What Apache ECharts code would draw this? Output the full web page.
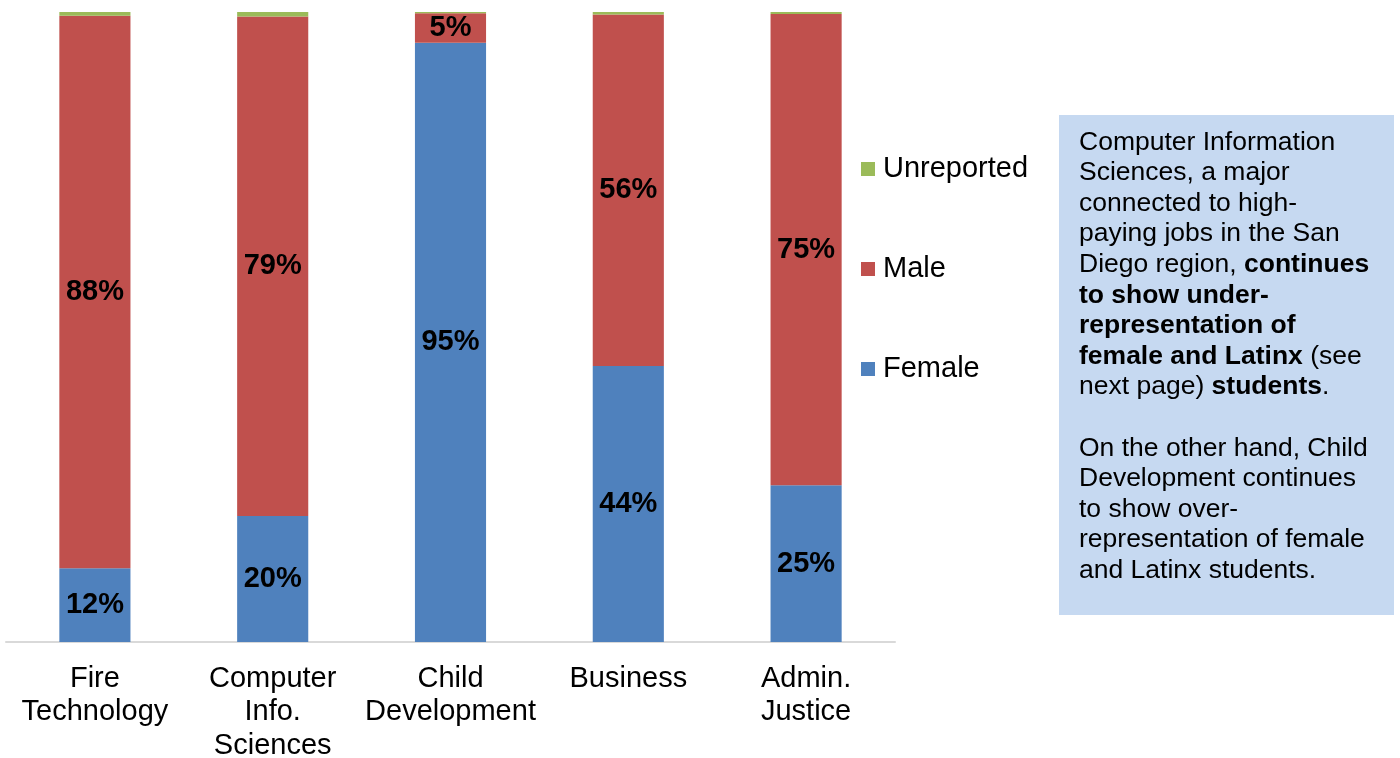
<!DOCTYPE html>
<html>
<head>
<meta charset="utf-8">
<script src="https://cdn.jsdelivr.net/npm/echarts@6/dist/echarts.min.js"></script>
<style>
  html, body { margin: 0; padding: 0; background: #fff; }
  #chart { width: 1400px; height: 758px; }
</style>
</head>
<body>
<div id="chart"></div>
<script>
// data
const categories = ['Fire\nTechnology', 'Computer\nInfo.\nSciences', 'Child\nDevelopment', 'Business', 'Admin.\nJustice'];
const female = [11.7, 20.0, 95.1, 43.8, 24.9];
const male = [87.7, 79.3, 4.7, 55.8, 74.8];
const unreported = [0.6, 0.7, 0.2, 0.4, 0.3];

const FONT = '"Liberation Sans", Arial, sans-serif';

const noteLines = [
  'Computer Information',
  'Sciences, a major',
  'connected to high-',
  'paying jobs in the San',
  'Diego region, {b|continues}',
  '{b|to show under-}',
  '{b|representation of}',
  '{b|female and Latinx} (see',
  'next page) {b|students}.',
  '',
  'On the other hand, Child',
  'Development continues',
  'to show over-',
  'representation of female',
  'and Latinx students.'
];

document.addEventListener('DOMContentLoaded', () => {
  const chart = echarts.init(document.getElementById('chart'));

  const pctLabel = {
    show: true,
    position: 'inside',
    color: '#000',
    fontFamily: FONT,
    fontSize: 29,
    fontWeight: 'bold',
    formatter: p => Math.round(p.value) + '%'
  };

  chart.setOption({
    animation: false,
    textStyle: { fontFamily: FONT },
    grid: { left: 6, right: 505, top: 12, bottom: 116, containLabel: false, outerBoundsMode: 'none' },
    legend: {
      orient: 'vertical',
      left: 861,
      top: 153,
      padding: 0,
      itemWidth: 14,
      itemHeight: 14,
      itemGap: 68,
      icon: 'rect',
      data: ['Unreported', 'Male', 'Female'],
      textStyle: { fontSize: 29, lineHeight: 32, color: '#000', fontFamily: FONT, padding: [0, 0, 0, 3] }
    },
    xAxis: {
      type: 'category',
      data: categories,
      axisLine: { lineStyle: { color: '#d9d9d9', width: 2 } },
      axisTick: { show: false },
      axisLabel: {
        color: '#000',
        fontSize: 29,
        lineHeight: 33.5,
        margin: 20,
        interval: 0,
        fontFamily: FONT
      }
    },
    yAxis: {
      type: 'value',
      min: 0,
      max: 100,
      show: false,
      splitLine: { show: false }
    },
    series: [
      {
        name: 'Female', type: 'bar', stack: 'all', data: female,
        barWidth: '40%',
        itemStyle: { color: '#4F81BD' },
        label: pctLabel
      },
      {
        name: 'Male', type: 'bar', stack: 'all', data: male,
        itemStyle: { color: '#C0504D' },
        label: pctLabel
      },
      {
        name: 'Unreported', type: 'bar', stack: 'all', data: unreported,
        itemStyle: { color: '#9BBB59' }
      }
    ],
    graphic: [
      {
        type: 'rect',
        shape: { x: 1059, y: 115, width: 335, height: 500 },
        style: { fill: '#C6D9F1' }
      },
      {
        type: 'text',
        x: 1079,
        y: 127,
        style: {
          text: noteLines.join('\n'),
          fill: '#000',
          fontSize: 26.5,
          fontFamily: FONT,
          lineHeight: 30.6,
          rich: {
            b: { fontWeight: 'bold', fontSize: 26.5, fontFamily: FONT, lineHeight: 30.6, fill: '#000' }
          }
        }
      }
    ]
  });
});
</script>
</body>
</html>
